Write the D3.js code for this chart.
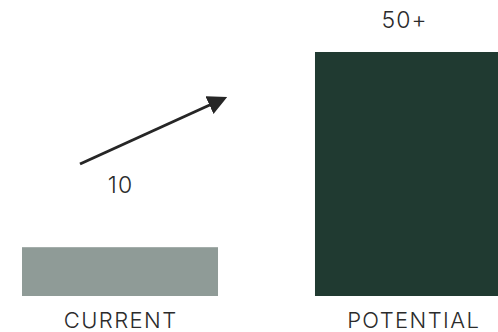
<!DOCTYPE html>
<html>
<head>
<meta charset="utf-8">
<script src="https://cdn.jsdelivr.net/npm/d3@7"></script>
<style>
  html, body { margin: 0; padding: 0; background: #fff; }
  svg { display: block; }
  text { font-family: "Inter", "Liberation Sans", sans-serif; font-weight: 300; fill: #2b2b2b; }
</style>
</head>
<body>
<svg id="chart" width="498" height="332"></svg>
<script>
// Current vs. potential comparison
const categories = ["CURRENT", "POTENTIAL"];
const values = [10, 50];
const valueLabels = ["10", "50+"];
const barColors = ["#8f9b97", "#203a31"];

const svg = d3.select("#chart");

const x = d3.scaleBand()
  .domain(categories)
  .range([22, 511])
  .paddingInner(0.331)
  .paddingOuter(0);

const y = d3.scaleLinear()
  .domain([0, 50])
  .range([296, 52]);

// Bars
svg.selectAll("rect.bar")
  .data(categories)
  .join("rect")
  .attr("class", "bar")
  .attr("x", d => x(d))
  .attr("y", (d, i) => y(values[i]))
  .attr("width", x.bandwidth())
  .attr("height", (d, i) => y(0) - y(values[i]))
  .attr("fill", (d, i) => barColors[i]);

// Category labels under the bars
const catSpacing = 1.4;
svg.selectAll("text.cat")
  .data(categories)
  .join("text")
  .attr("class", "cat")
  .attr("x", d => x(d) + x.bandwidth() / 2 + catSpacing / 2)
  .attr("y", 327.5)
  .attr("text-anchor", "middle")
  .attr("font-size", 22)
  .attr("letter-spacing", catSpacing)
  .text(d => d);

// Value labels
const valSpacing = 1;
const labelOffset = [54, 24];
const labelShift = [0, -9];
svg.selectAll("text.val")
  .data(valueLabels)
  .join("text")
  .attr("class", "val")
  .attr("x", (d, i) => x(categories[i]) + x.bandwidth() / 2 + labelShift[i] + valSpacing / 2)
  .attr("y", (d, i) => y(values[i]) - labelOffset[i])
  .attr("text-anchor", "middle")
  .attr("font-size", 23)
  .attr("letter-spacing", valSpacing)
  .text(d => d);

// Growth arrow
svg.append("defs").append("marker")
  .attr("id", "head")
  .attr("viewBox", "0 0 10 10")
  .attr("refX", 2)
  .attr("refY", 5)
  .attr("markerWidth", 6.5)
  .attr("markerHeight", 6.5)
  .attr("markerUnits", "strokeWidth")
  .attr("orient", "auto")
  .append("path")
  .attr("d", "M0,0 L10,5 L0,10 Z")
  .attr("fill", "#262626");

svg.append("line")
  .attr("x1", 80).attr("y1", 164)
  .attr("x2", 213).attr("y2", 103.5)
  .attr("stroke", "#262626")
  .attr("stroke-width", 3)
  .attr("marker-end", "url(#head)");
</script>
</body>
</html>
